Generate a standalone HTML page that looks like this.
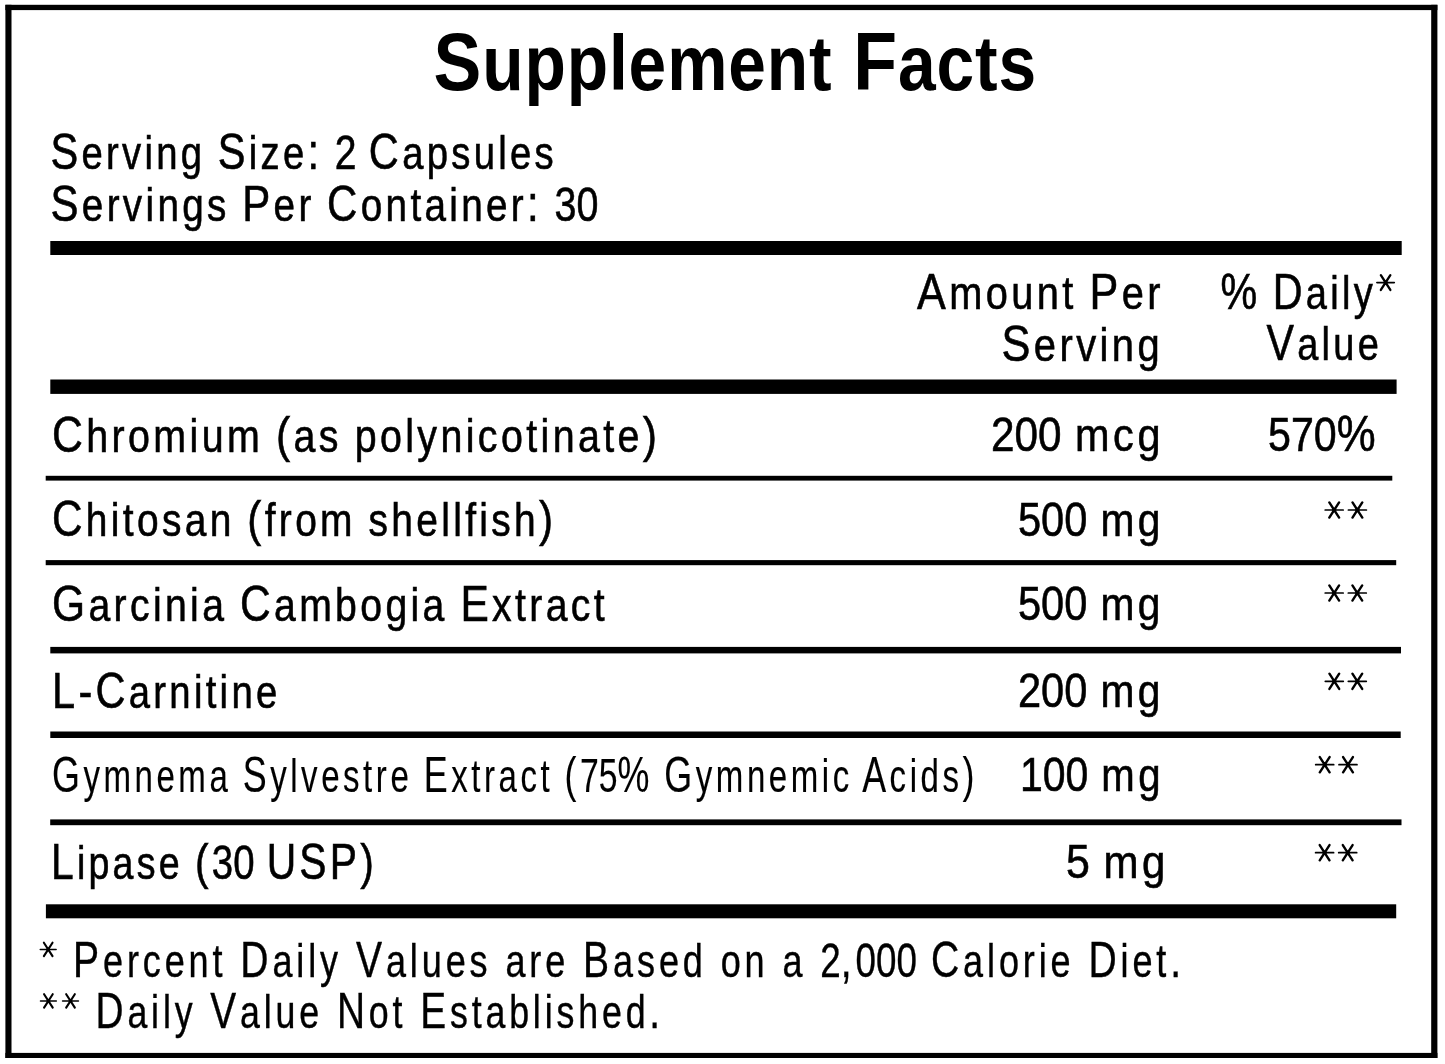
<!DOCTYPE html>
<html><head><meta charset="utf-8">
<style>
html,body{margin:0;padding:0;background:#fff;}
body{width:1445px;height:1064px;overflow:hidden;position:relative;}
svg{position:absolute;left:0;top:0;will-change:transform;}
text{font-family:"Liberation Sans",sans-serif;fill:#000;}
.t{font-weight:bold;letter-spacing:1px;stroke:#000;stroke-width:0px;}
.n{letter-spacing:4px;word-spacing:-3px;stroke:#000;stroke-width:0.6px;}
.f{letter-spacing:5px;word-spacing:-1px;stroke:#000;stroke-width:0.4px;}
.a{stroke:#000;stroke-linecap:round;fill:none;}
</style></head>
<body>
<svg width="1445" height="1064" viewBox="0 0 1445 1064">
<defs>
<g id="ast" class="a"><path d="M-9.0 0H9.0" stroke-width="1.7"/><path d="M-4.9 -7.6L4.9 7.6M4.9 -7.6L-4.9 7.6" stroke-width="2.4"/><circle r="2.2" fill="#000" stroke="none"/></g>
</defs>
<rect x="0" y="0" width="1445" height="1064" fill="#fff"/>
<rect x="5.4" y="4.8" width="6.1" height="1053.2"/>
<rect x="5.4" y="4.8" width="1432" height="5.3"/>
<rect x="1431.2" y="4.8" width="6.2" height="1053.2"/>
<rect x="5.4" y="1052.9" width="1432" height="5.1"/>
<rect x="50.3" y="241" width="1351.4" height="14"/>
<rect x="50.3" y="379.5" width="1346.3" height="14.4"/>
<rect x="45.7" y="475.8" width="1346.6" height="4.8"/>
<rect x="45.7" y="560.1" width="1350.5" height="5.1"/>
<rect x="50.3" y="646.9" width="1350.7" height="6.5"/>
<rect x="50.3" y="731.5" width="1350.4" height="6.5"/>
<rect x="50.2" y="819.4" width="1351.3" height="5.8"/>
<rect x="45.9" y="904.3" width="1350.3" height="14"/>
<text class="t" x="433.5" y="89.5" textLength="603.5" lengthAdjust="spacingAndGlyphs"><tspan font-size="82">S</tspan><tspan font-size="77.5">upplement</tspan><tspan font-size="82"> </tspan><tspan font-size="82">F</tspan><tspan font-size="77.5">acts</tspan></text>
<text class="n" x="50.5" y="169.0" textLength="506.5" lengthAdjust="spacingAndGlyphs"><tspan font-size="50.5">S</tspan><tspan font-size="46.5">erving</tspan><tspan font-size="50.5"> </tspan><tspan font-size="50.5">S</tspan><tspan font-size="46.5">ize</tspan><tspan font-size="50.5">: </tspan><tspan font-size="47.5" style="letter-spacing:0px">2</tspan><tspan font-size="50.5"> </tspan><tspan font-size="50.5">C</tspan><tspan font-size="46.5">apsules</tspan></text>
<text class="n" x="50.5" y="220.5" textLength="548.0" lengthAdjust="spacingAndGlyphs"><tspan font-size="50.5">S</tspan><tspan font-size="46.5">ervings</tspan><tspan font-size="50.5"> </tspan><tspan font-size="50.5">P</tspan><tspan font-size="46.5">er</tspan><tspan font-size="50.5"> </tspan><tspan font-size="50.5">C</tspan><tspan font-size="46.5">ontainer</tspan><tspan font-size="50.5">: </tspan><tspan font-size="47.5" style="letter-spacing:0px">30</tspan></text>
<text class="n" x="917.0" y="309.0" textLength="247.0" lengthAdjust="spacingAndGlyphs"><tspan font-size="50.5">A</tspan><tspan font-size="46.5">mount</tspan><tspan font-size="50.5"> </tspan><tspan font-size="50.5">P</tspan><tspan font-size="46.5">er</tspan></text>
<text class="n" x="1001.5" y="360.8" textLength="161.5" lengthAdjust="spacingAndGlyphs"><tspan font-size="50.5">S</tspan><tspan font-size="46.5">erving</tspan></text>
<text class="n" x="1220.5" y="308.6" textLength="155.5" lengthAdjust="spacingAndGlyphs"><tspan font-size="50.5">% </tspan><tspan font-size="50.5">D</tspan><tspan font-size="46.5">aily</tspan></text>
<text class="n" x="1266.5" y="360.0" textLength="115.5" lengthAdjust="spacingAndGlyphs"><tspan font-size="50.5">V</tspan><tspan font-size="46.5">alue</tspan></text>
<text class="n" x="52.0" y="452.0" textLength="608.5" lengthAdjust="spacingAndGlyphs"><tspan font-size="50.5">C</tspan><tspan font-size="46.5">hromium</tspan><tspan font-size="50.5"> (</tspan><tspan font-size="46.5">as</tspan><tspan font-size="50.5"> </tspan><tspan font-size="46.5">polynicotinate</tspan><tspan font-size="50.5">)</tspan></text>
<text class="n" x="991.0" y="451.4" textLength="173.0" lengthAdjust="spacingAndGlyphs"><tspan font-size="47.5" style="letter-spacing:0px">200</tspan><tspan font-size="50.5"> </tspan><tspan font-size="46.5">mcg</tspan></text>
<text class="n" x="1268.0" y="451.4" textLength="111.0" lengthAdjust="spacingAndGlyphs"><tspan font-size="47.5" style="letter-spacing:0px">570</tspan><tspan font-size="50.5">%</tspan></text>
<text class="n" x="52.0" y="536.0" textLength="504.5" lengthAdjust="spacingAndGlyphs"><tspan font-size="50.5">C</tspan><tspan font-size="46.5">hitosan</tspan><tspan font-size="50.5"> (</tspan><tspan font-size="46.5">from</tspan><tspan font-size="50.5"> </tspan><tspan font-size="46.5">shellfish</tspan><tspan font-size="50.5">)</tspan></text>
<text class="n" x="1018.0" y="535.5" textLength="146.0" lengthAdjust="spacingAndGlyphs"><tspan font-size="47.5" style="letter-spacing:0px">500</tspan><tspan font-size="50.5"> </tspan><tspan font-size="46.5">mg</tspan></text>
<text class="n" x="52.0" y="620.5" textLength="556.0" lengthAdjust="spacingAndGlyphs"><tspan font-size="50.5">G</tspan><tspan font-size="46.5">arcinia</tspan><tspan font-size="50.5"> </tspan><tspan font-size="50.5">C</tspan><tspan font-size="46.5">ambogia</tspan><tspan font-size="50.5"> </tspan><tspan font-size="50.5">E</tspan><tspan font-size="46.5">xtract</tspan></text>
<text class="n" x="1018.0" y="619.5" textLength="146.0" lengthAdjust="spacingAndGlyphs"><tspan font-size="47.5" style="letter-spacing:0px">500</tspan><tspan font-size="50.5"> </tspan><tspan font-size="46.5">mg</tspan></text>
<text class="n" x="52.0" y="707.8" textLength="228.5" lengthAdjust="spacingAndGlyphs"><tspan font-size="50.5">L</tspan><tspan font-size="50.5">-</tspan><tspan font-size="50.5">C</tspan><tspan font-size="46.5">arnitine</tspan></text>
<text class="n" x="1018.0" y="707.0" textLength="146.0" lengthAdjust="spacingAndGlyphs"><tspan font-size="47.5" style="letter-spacing:0px">200</tspan><tspan font-size="50.5"> </tspan><tspan font-size="46.5">mg</tspan></text>
<text class="n" style="stroke-width:0.15px;letter-spacing:5px" x="52.0" y="791.5" textLength="926.0" lengthAdjust="spacingAndGlyphs"><tspan font-size="50.5">G</tspan><tspan font-size="46.5">ymnema</tspan><tspan font-size="50.5"> </tspan><tspan font-size="50.5">S</tspan><tspan font-size="46.5">ylvestre</tspan><tspan font-size="50.5"> </tspan><tspan font-size="50.5">E</tspan><tspan font-size="46.5">xtract</tspan><tspan font-size="50.5"> (</tspan><tspan font-size="47.5" style="letter-spacing:0px">75</tspan><tspan font-size="50.5">% </tspan><tspan font-size="50.5">G</tspan><tspan font-size="46.5">ymnemic</tspan><tspan font-size="50.5"> </tspan><tspan font-size="50.5">A</tspan><tspan font-size="46.5">cids</tspan><tspan font-size="50.5">)</tspan></text>
<text class="n" x="1020.0" y="791.4" textLength="144.0" lengthAdjust="spacingAndGlyphs"><tspan font-size="47.5" style="letter-spacing:0px">100</tspan><tspan font-size="50.5"> </tspan><tspan font-size="46.5">mg</tspan></text>
<text class="n" x="51.0" y="878.7" textLength="326.0" lengthAdjust="spacingAndGlyphs"><tspan font-size="50.5">L</tspan><tspan font-size="46.5">ipase</tspan><tspan font-size="50.5"> (</tspan><tspan font-size="47.5" style="letter-spacing:0px">30</tspan><tspan font-size="50.5"> </tspan><tspan font-size="50.5">USP</tspan><tspan font-size="50.5">)</tspan></text>
<text class="n" x="1066.0" y="878.3" textLength="103.0" lengthAdjust="spacingAndGlyphs"><tspan font-size="47.5" style="letter-spacing:0px">5</tspan><tspan font-size="50.5"> </tspan><tspan font-size="46.5">mg</tspan></text>
<text class="f" x="73.0" y="976.6" textLength="1112.0" lengthAdjust="spacingAndGlyphs"><tspan font-size="50.5">P</tspan><tspan font-size="46.5">ercent</tspan><tspan font-size="50.5"> </tspan><tspan font-size="50.5">D</tspan><tspan font-size="46.5">aily</tspan><tspan font-size="50.5"> </tspan><tspan font-size="50.5">V</tspan><tspan font-size="46.5">alues</tspan><tspan font-size="50.5"> </tspan><tspan font-size="46.5">are</tspan><tspan font-size="50.5"> </tspan><tspan font-size="50.5">B</tspan><tspan font-size="46.5">ased</tspan><tspan font-size="50.5"> </tspan><tspan font-size="46.5">on</tspan><tspan font-size="50.5"> </tspan><tspan font-size="46.5">a</tspan><tspan font-size="50.5"> </tspan><tspan font-size="47.5" style="letter-spacing:0px">2</tspan><tspan font-size="50.5">,</tspan><tspan font-size="47.5" style="letter-spacing:0px">000</tspan><tspan font-size="50.5"> </tspan><tspan font-size="50.5">C</tspan><tspan font-size="46.5">alorie</tspan><tspan font-size="50.5"> </tspan><tspan font-size="50.5">D</tspan><tspan font-size="46.5">iet</tspan><tspan font-size="50.5">.</tspan></text>
<text class="f" x="95.5" y="1028.0" textLength="568.5" lengthAdjust="spacingAndGlyphs"><tspan font-size="50.5">D</tspan><tspan font-size="46.5">aily</tspan><tspan font-size="50.5"> </tspan><tspan font-size="50.5">V</tspan><tspan font-size="46.5">alue</tspan><tspan font-size="50.5"> </tspan><tspan font-size="50.5">N</tspan><tspan font-size="46.5">ot</tspan><tspan font-size="50.5"> </tspan><tspan font-size="50.5">E</tspan><tspan font-size="46.5">stablished</tspan><tspan font-size="50.5">.</tspan></text>
<use href="#ast" transform="translate(1385.6 282.6) scale(0.97)"/>
<use href="#ast" transform="translate(1334.2 510.0) scale(1.00)"/>
<use href="#ast" transform="translate(1357.4 510.0) scale(1.00)"/>
<use href="#ast" transform="translate(1334.2 593.0) scale(1.00)"/>
<use href="#ast" transform="translate(1357.3 593.0) scale(1.00)"/>
<use href="#ast" transform="translate(1334.3 681.3) scale(1.00)"/>
<use href="#ast" transform="translate(1357.3 681.3) scale(1.00)"/>
<use href="#ast" transform="translate(1324.7 764.7) scale(1.00)"/>
<use href="#ast" transform="translate(1348.0 764.7) scale(1.00)"/>
<use href="#ast" transform="translate(1324.6 852.7) scale(1.00)"/>
<use href="#ast" transform="translate(1347.7 852.7) scale(1.00)"/>
<use href="#ast" transform="translate(48.2 949.4) scale(0.88)"/>
<use href="#ast" transform="translate(48.4 1000.9) scale(0.88)"/>
<use href="#ast" transform="translate(70.5 1000.9) scale(0.88)"/>
</svg>
</body></html>
